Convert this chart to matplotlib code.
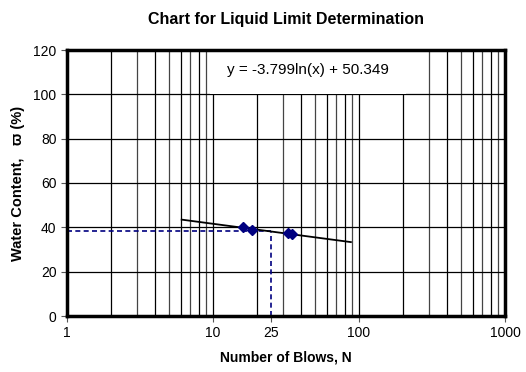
import numpy as np
import matplotlib
matplotlib.use("Agg")
import matplotlib.pyplot as plt

plt.rcParams['font.family'] = ['Liberation Sans', 'DejaVu Sans']

blows = [16, 18.5, 32.5, 35]
water = [40.2, 38.6, 37.4, 36.8]
slope = -3.799
intercept = 50.349
trend_range = [6.1, 88]
n_ll = 25
xticks = [1, 10, 25, 100, 1000]
yticks = [0, 20, 40, 60, 80, 100, 120]

ll = slope * np.log(n_ll) + intercept

fig = plt.figure(figsize=(5.26, 3.72), dpi=100)
ax = fig.add_axes([67 / 526, 56 / 372, 438 / 526, 266 / 372])
ax.set_xscale('log')
ax.set_xlim(1, 1000)
ax.set_ylim(0, 120)

# grid: vertical lines at every minor position, horizontal every 20
for dec in [1, 10, 100]:
    for k in range(2, 10):
        ax.axvline(dec * k, color='#444444' if k % 2 else 'black', lw=0.9, zorder=1)
for d in [10, 100]:
    ax.axvline(d, color='black', lw=0.9, zorder=1)
for y in yticks[1:-1]:
    ax.axhline(y, color='black', lw=0.9, zorder=1)

xs = np.linspace(np.log(trend_range[0]), np.log(trend_range[1]), 50)
ax.plot(np.exp(xs), slope * xs + intercept, color='black', lw=1.3, zorder=3)
ax.plot(blows, water, 'D', color='#000080', ms=5.5, zorder=4)

ax.plot([1, n_ll], [ll, ll], color='#000080', lw=1.2, ls=(0, (3, 2)), zorder=2)
ax.plot([n_ll, n_ll], [0, ll], color='#000080', lw=1.2, ls=(0, (3, 2)), zorder=2)

# equation label sits under the frame (spines zorder 2.5)
ax.text(44.7, 111, 'y = -3.799ln(x) + 50.349', fontsize=11,
        ha='center', va='center', zorder=2.2,
        bbox=dict(facecolor='white', edgecolor='none', pad=12))

ax.set_xticks(xticks)
ax.set_xticklabels([str(t) for t in xticks])
ax.minorticks_off()
ax.set_yticks(yticks)
ax.tick_params(axis='both', labelsize=10, length=4, width=0.8, color='#555555')
ax.tick_params(axis='x', pad=3)
for s in ax.spines.values():
    s.set_linewidth(2.5)

ax.set_title('Chart for Liquid Limit Determination', fontsize=11.5,
             fontweight='bold', pad=19)
ax.set_xlabel('Number of Blows, N', fontsize=10, fontweight='bold', labelpad=8)
ax.set_ylabel('Water Content,   ϖ (%)', fontsize=10.5, fontweight='bold', labelpad=6)

fig.savefig('out.png', dpi=100)
